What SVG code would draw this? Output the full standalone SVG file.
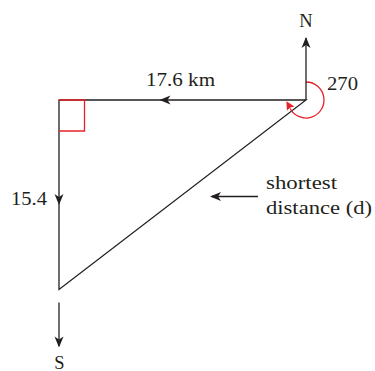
<svg xmlns="http://www.w3.org/2000/svg" width="375" height="371" viewBox="0 0 375 371">
  <style>
    .ln { stroke: #231f20; stroke-width: 1.3; fill: none; }
    .red { stroke: #e8202a; stroke-width: 1.3; fill: none; }
    .t { font-family: "Liberation Serif", "Times New Roman", serif; font-size: 18.5px; fill: #231f20; }
    .ah { fill: #231f20; }
  </style>
  <defs>
    <path id="arrow" d="M0,0 L-11,-4.5 L-8,0 L-11,4.5 Z"/>
  </defs>
  <rect width="375" height="371" fill="#ffffff"/>

  <g id="triangle">
    <path class="ln" d="M306,100 L59,100 L59,289.5 Z"/>
  </g>

  <g id="right-angle">
    <path class="red" d="M59,100 L84.5,100 L84.5,131 L59,131"/>
  </g>

  <g id="bearing-arc">
    <path class="red" d="M306,82 A18,18 0 1 1 290.1,108.45"/>
    <path d="M286.4,101.2 L294.4,106.6 L290.4,107.6 L286.9,110.5 Z" fill="#e8202a"/>
  </g>

  <g id="connectors">
    <line class="ln" x1="306" y1="100" x2="306" y2="38"/>
    <use href="#arrow" class="ah" transform="translate(306,37) rotate(-90)"/>
    <use href="#arrow" class="ah" transform="translate(159.5,100) rotate(180)"/>
    <use href="#arrow" class="ah" transform="translate(59,205) rotate(90)"/>
    <line class="ln" x1="59" y1="302.5" x2="59" y2="346"/>
    <use href="#arrow" class="ah" transform="translate(59,347.5) rotate(90)"/>
    <line class="ln" x1="258" y1="196.5" x2="212" y2="196.5"/>
    <use href="#arrow" class="ah" transform="translate(210,196.5) rotate(180)"/>
  </g>

  <g id="labels">
    <text class="t" x="306" y="26.5" text-anchor="middle">N</text>
    <text class="t" x="146" y="86" textLength="69" lengthAdjust="spacingAndGlyphs">17.6 km</text>
    <text class="t" x="327" y="90" textLength="31" lengthAdjust="spacingAndGlyphs">270</text>
    <text class="t" x="11" y="204.5" textLength="36" lengthAdjust="spacingAndGlyphs">15.4</text>
    <text class="t" x="266" y="189" textLength="71" lengthAdjust="spacingAndGlyphs">shortest</text>
    <text class="t" x="266" y="214" textLength="106" lengthAdjust="spacingAndGlyphs">distance (d)</text>
    <text class="t" x="59.5" y="368.5" text-anchor="middle">S</text>
  </g>
</svg>
